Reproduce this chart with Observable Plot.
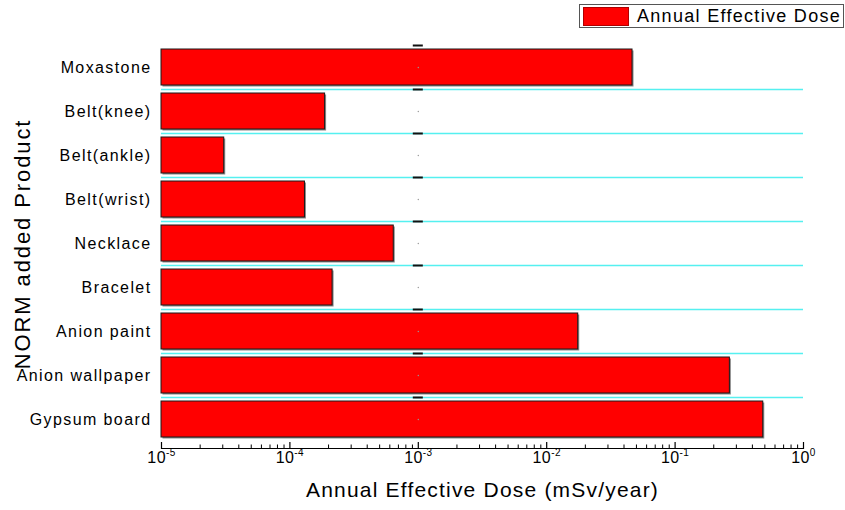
<!DOCTYPE html>
<html>
<head>
<meta charset="utf-8">
<script src="https://cdn.jsdelivr.net/npm/d3@7"></script>
<script src="https://cdn.jsdelivr.net/npm/@observablehq/plot@0.6"></script>
<style>
  body { margin: 0; background: #fff; }
  #wrap { position: relative; width: 845px; height: 510px; font-family: "Liberation Sans", Arial, sans-serif; }
  #legend { position: absolute; left: 579px; top: 4px; width: 265px; height: 24px; box-sizing: border-box;
            border: 1px solid #555; background: #fff; display: flex; align-items: center; }
  #legend .sw { width: 46px; height: 19px; margin-left: 3px; background: #ff0000; border: 1px solid #b00000; box-sizing: border-box; }
  #legend .lab { margin-left: 8px; font-size: 18px; letter-spacing: 1.3px; color: #000; white-space: nowrap; }
  g[aria-label="y-axis tick label"] text { letter-spacing: 1.4px; }
</style>
</head>
<body>
<div id="wrap">
  <div id="legend"><div class="sw"></div><div class="lab">Annual Effective Dose</div></div>
  <div id="chart"></div>
</div>
<script>
// ---- data ----
const products = ["Moxastone", "Belt(knee)", "Belt(ankle)", "Belt(wrist)", "Necklace", "Bracelet", "Anion paint", "Anion wallpaper", "Gypsum board"];
const doses = [0.0466, 1.88e-4, 3.08e-5, 1.31e-4, 6.44e-4, 2.15e-4, 0.0176, 0.267, 0.486];
const xTicks = [1e-5, 1e-4, 1e-3, 1e-2, 1e-1, 1];
const xTickLabels = ["10^-5", "10^-4", "10^-3", "10^-2", "10^-1", "10^0"];
const baseline = 1e-5;
const markerX = 1e-3;
const xTitle = "Annual Effective Dose (mSv/year)";
const yTitle = "NORM added Product";

const data = products.map((p, i) => ({product: p, dose: doses[i]}));
const xLabelRows = xTicks.map((v, i) => ({v, label: xTickLabels[i]}));
const minorTicks = [];
for (let k = -5; k < 0; k++) for (let m = 2; m <= 9; m++) minorTicks.push(m * Math.pow(10, k));

const W = 845, H = 510, mL = 161, mR = 42, mT = 45, mB = 62, insB = 7;
const rowStep = (H - mT - mB - insB) / products.length;

const chart = Plot.plot({
  width: W, height: H,
  marginLeft: mL, marginRight: mR, marginTop: mT, marginBottom: mB,
  style: {fontFamily: "'Liberation Sans', Arial, sans-serif", background: "white", color: "black", overflow: "visible"},
  x: {type: "log", domain: [1e-5, 1], label: null},
  y: {type: "band", domain: products, paddingInner: 0.19, paddingOuter: 0.095, insetBottom: insB, label: null},
  marks: [
    Plot.ruleY(products.slice(1), {y: d => d, dy: -rowStep / 2, stroke: "#55f0f0", strokeWidth: 1.5}),
    Plot.barX(data, {y: "product", x1: () => baseline, x2: "dose", fill: "#888", dx: 1.5, dy: 1.5}),
    Plot.barX(data, {y: "product", x1: () => baseline, x2: "dose", fill: "#ff0000", stroke: "#1a1a1a", strokeWidth: 1}),
    Plot.ruleY(products, {y: d => d, dy: -rowStep / 2, x1: () => markerX / 1.094, x2: () => markerX * 1.094, stroke: "#111", strokeWidth: 2}),
    Plot.dot(products, {y: d => d, x: () => markerX, r: 0.7, fill: "#999", stroke: null}),
    Plot.frame({anchor: "bottom", stroke: "black", strokeWidth: 1.2}),
    Plot.axisX(minorTicks, {tickSize: -3.5, tickFormat: () => "", strokeWidth: 1}),
    Plot.axisX(xTicks, {tickSize: -6, tickFormat: () => "", strokeWidth: 1.2}),
    Plot.text(xLabelRows, {x: "v", text: "label", frameAnchor: "bottom", dy: 14, fontSize: 16}),
    Plot.axisY({tickSize: 0, tickPadding: 10, fontSize: 16, label: null}),
    Plot.text([xTitle], {frameAnchor: "bottom", dy: 48, fontSize: 21}),
    Plot.text([yTitle], {frameAnchor: "left", textAnchor: "middle", dx: -139, dy: -3, rotate: -90, fontSize: 22})
  ]
});

// post-process text: superscript exponents, letter spacing of titles
const ns = "http://www.w3.org/2000/svg";
chart.querySelectorAll("text").forEach(t => {
  const s = t.textContent;
  if (s === xTitle) { t.style.letterSpacing = "1.2px"; return; }
  if (s === yTitle) { t.style.letterSpacing = "1.9px"; return; }
  if (xTickLabels.includes(s)) {
    const [base, exp] = s.split("^");
    t.textContent = base;
    t.style.letterSpacing = "0.4px";
    const ts = document.createElementNS(ns, "tspan");
    ts.setAttribute("dy", "-0.7em");
    ts.setAttribute("font-size", "10");
    ts.textContent = exp;
    t.appendChild(ts);
  }
});

document.getElementById("chart").appendChild(chart);
</script>
</body>
</html>
